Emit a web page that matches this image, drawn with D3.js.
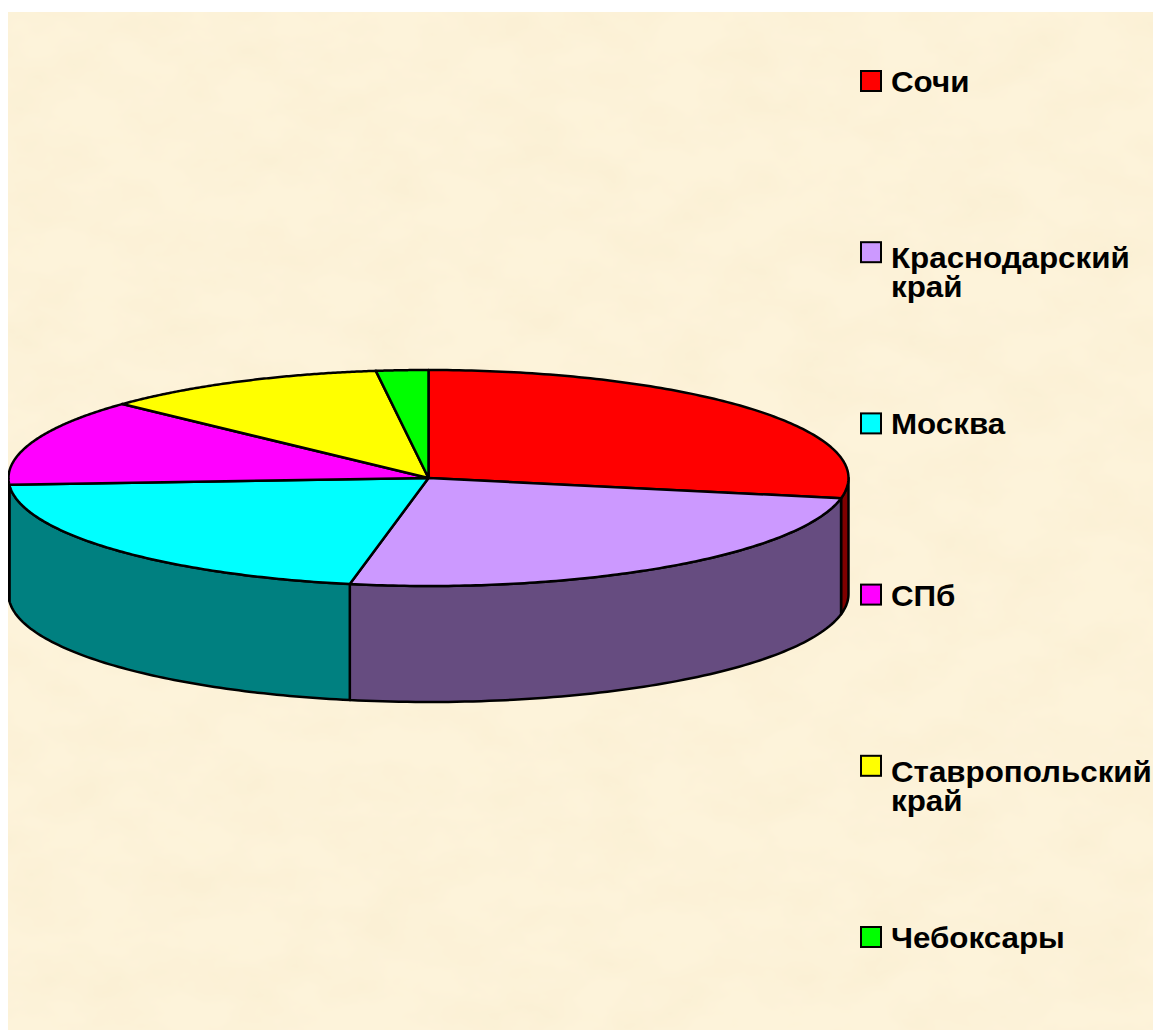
<!DOCTYPE html>
<html>
<head>
<meta charset="utf-8">
<script src="https://cdn.jsdelivr.net/npm/d3@7"></script>
<style>
  html, body { margin: 0; padding: 0; background: #fff; }
  svg { display: block; }
  .legend text { font-family: Arial, "Liberation Sans", sans-serif; font-weight: bold; font-size: 29px; fill: #000; }
</style>
</head>
<body>
<svg id="chart" width="1153" height="1030"></svg>
<script>
// data
const categories = ["Сочи", "Краснодарский край", "Москва", "СПб", "Ставропольский край", "Чебоксары"];
const values = [28, 25, 21, 13, 11, 2];
const topColors = ["#ff0000", "#cc99ff", "#00ffff", "#ff00ff", "#ffff00", "#00ff00"];
const sideColors = ["#800000", "#664c80", "#008080", "#800080", "#808000", "#008000"];

const W = 1153, H = 1030;
const svg = d3.select("#chart");
const defs = svg.append("defs");

// parchment-ish background
const f = defs.append("filter").attr("id", "parch")
  .attr("x", 0).attr("y", 0).attr("width", "100%").attr("height", "100%");
f.append("feTurbulence").attr("type", "fractalNoise")
  .attr("baseFrequency", "0.014 0.022").attr("numOctaves", 4).attr("seed", 7);
f.append("feColorMatrix").attr("type", "matrix")
  .attr("values", "0 0 0 0 0.88  0 0 0 0 0.76  0 0 0 0 0.50  0.35 0 0 0 -0.12");

defs.append("clipPath").attr("id", "area")
  .append("rect").attr("x", 8).attr("y", 12).attr("width", W - 8).attr("height", H - 12);

const bg = svg.append("g").attr("clip-path", "url(#area)");
bg.append("rect").attr("x", 8).attr("y", 12).attr("width", W - 8).attr("height", H - 12).attr("fill", "#fdf3da");
bg.append("rect").attr("x", 8).attr("y", 12).attr("width", W - 8).attr("height", H - 12).attr("filter", "url(#parch)");

// 3D pie
const cx = 428.5, cy = 478, rx = 420, ry = 108, depth = 116;
const arcs = d3.pie().sort(null).value(d => d)(values);

const px = a => cx + rx * Math.sin(a);
const py = a => cy - ry * Math.cos(a);
const line = d3.line();

function sample(a0, a1, n) {
  return d3.range(n + 1).map(i => a0 + (a1 - a0) * i / n);
}

const pie = svg.append("g").attr("clip-path", "url(#area)");

// outer walls (front half only)
arcs.forEach((d, i) => {
  const a0 = Math.max(d.startAngle, Math.PI / 2);
  const a1 = Math.min(d.endAngle, Math.PI * 1.5);
  if (a0 >= a1) return;
  const ang = sample(a0, a1, 80);
  const pts = ang.map(a => [px(a), py(a)])
    .concat(ang.slice().reverse().map(a => [px(a), py(a) + depth]));
  pie.append("path")
    .attr("d", line(pts) + "Z")
    .attr("fill", sideColors[i])
    .attr("stroke", "#000").attr("stroke-width", 2.5).attr("stroke-linejoin", "round");
});

// top faces
arcs.forEach((d, i) => {
  const ang = sample(d.startAngle, d.endAngle, 120);
  const pts = [[cx, cy]].concat(ang.map(a => [px(a), py(a)]));
  pie.append("path")
    .attr("d", line(pts) + "Z")
    .attr("fill", topColors[i])
    .attr("stroke", "#000").attr("stroke-width", 2.5).attr("stroke-linejoin", "round");
});

// legend
const legend = svg.append("g").attr("class", "legend");
const ly = d3.scaleLinear().domain([0, categories.length - 1]).range([81, 937]);
categories.forEach((c, i) => {
  const y = ly(i);
  const words = c.split(" ");
  const g = legend.append("g").attr("transform", `translate(861,${y})`);
  g.append("rect").attr("x", 0).attr("y", -10).attr("width", 20).attr("height", 20)
    .attr("fill", topColors[i]).attr("stroke", "#000").attr("stroke-width", 2);
  const t = g.append("text")
    .attr("transform", `translate(30,${words.length > 1 ? 16 : 11}) scale(1.08,1)`);
  words.forEach((w, k) => {
    t.append("tspan").attr("x", 0).attr("dy", k === 0 ? 0 : 29).text(w);
  });
});
</script>
</body>
</html>
